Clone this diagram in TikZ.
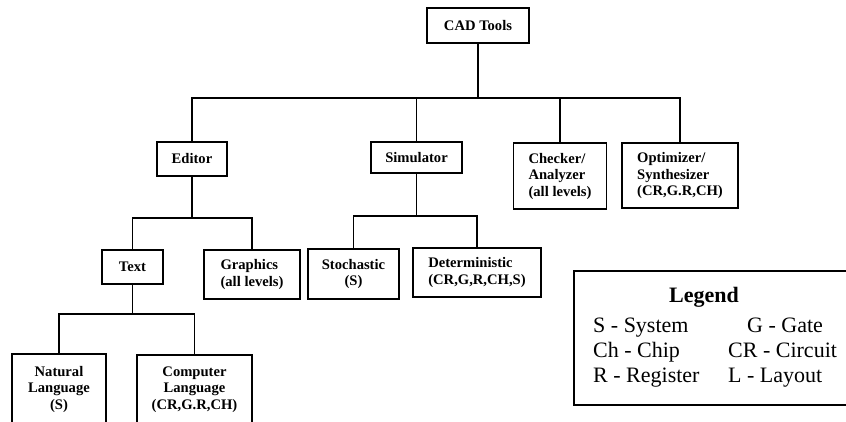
\documentclass[tikz,border=0pt]{standalone}
\usepackage{fontspec}
\setmainfont{Liberation Serif}
\usetikzlibrary{positioning}

\begin{document}
\begin{tikzpicture}[
  x=1pt, y=-1pt,
  box/.style={draw, line width=1.8pt, inner sep=0pt, align=center,
              font=\fontsize{14.6}{16.5}\selectfont\bfseries},
  lbox/.style={box, align=left},
  link/.style={line width=1.8pt},
  key/.style={inner sep=0pt, anchor=base west,
              font=\fontsize{22}{24.5}\selectfont},
]
\clip (0,0) rectangle (846,422);

\node[box, minimum width=102, minimum height=35] (cad) at (478,25.5) {CAD Tools};

\node[box, minimum width=70, minimum height=34] (editor) at (192,159) {Editor};
\node[box, minimum width=91, minimum height=31] (sim) at (416.5,157.5) {Simulator};
\node[lbox, minimum width=93, minimum height=66] (check) at (560,176) {Checker/\\Analyzer\\(all levels)};
\node[lbox, minimum width=116, minimum height=65] (optim) at (680,175.5) {Optimizer/\\Synthesizer\\(CR,G.R,CH)};

\node[box, minimum width=61, minimum height=34] (text) at (132.5,267) {Text};
\node[lbox, minimum width=96, minimum height=49] (graph) at (252,274.5) {Graphics\\(all levels)};
\node[box, minimum width=91, minimum height=50] (stoch) at (353.5,274) {Stochastic\\(S)};
\node[lbox, minimum width=128, minimum height=49] (det) at (477,272.5) {Deterministic\\(CR,G,R,CH,S)};

\node[box, minimum width=94, minimum height=70] (natural) at (59,389) {Natural\\Language\\(S)};
\node[box, minimum width=115, minimum height=69] (computer) at (194.5,389.5) {Computer\\Language\\(CR,G.R,CH)};

% legend
\node[draw, line width=1.8pt, minimum width=292, minimum height=134] (legend) at (720,338) {};
\node[key, anchor=base, font=\fontsize{22}{24.5}\selectfont\bfseries] (ltitle) at (704,302) {Legend};
\node[key] (ks) at (593,332) {S - System};
\node[key] (kch) at (593,357) {Ch - Chip};
\node[key] (kr) at (593,382) {R - Register};
\node[key] (kg) at (747,332) {G - Gate};
\node[key] (kcr) at (728,357) {CR - Circuit};
\node[key] (kl) at (728,382) {L - Layout};

\coordinate (topbar) at (0,98);
\coordinate (ebar) at (0,218);
\coordinate (sbar) at (0,216);
\coordinate (tbar) at (0,314);

\draw[link] (cad.south) -- (cad.south |- topbar);
\draw[link] (editor.north) |- (cad.south |- topbar) -| (optim.north);
\draw[link] (sim.north) -- (sim.north |- topbar);
\draw[link] (check.north) -- (check.north |- topbar);

\draw[link] (editor.south) -- (editor.south |- ebar);
\draw[link] (text.north) |- (editor.south |- ebar) -| (graph.north);

\draw[link] (sim.south) -- (sim.south |- sbar);
\draw[link] (stoch.north) |- (sim.south |- sbar) -| (det.north);

\draw[link] (text.south) -- (text.south |- tbar);
\draw[link] (natural.north) |- (text.south |- tbar) -| (computer.north);

\end{tikzpicture}
\end{document}
